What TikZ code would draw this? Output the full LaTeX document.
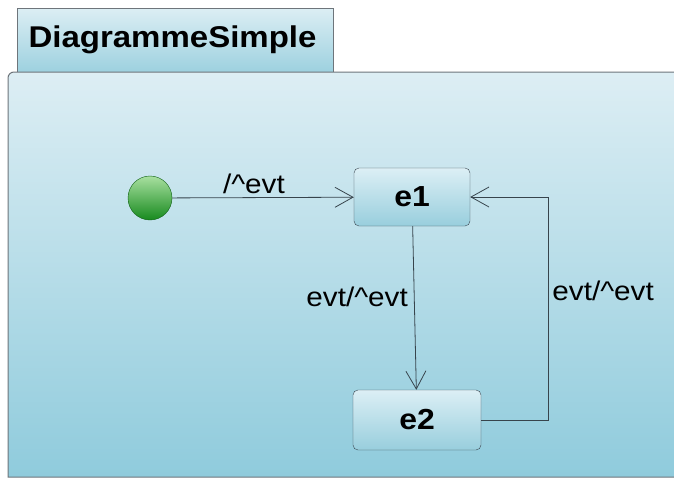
\documentclass[tikz,border=0pt]{standalone}
\usepackage{fontspec}
\setmainfont[FakeStretch=1.1]{Liberation Sans}
\usetikzlibrary{arrows.meta}

\definecolor{frameline}{HTML}{6E757B}
\definecolor{frametop}{HTML}{DDEEF4}
\definecolor{framebot}{HTML}{8FCBDC}
\definecolor{tabtop}{HTML}{DCEEF4}
\definecolor{tabbot}{HTML}{9DD1DF}
\definecolor{statetop}{HTML}{DCEFF5}
\definecolor{statebot}{HTML}{98CEDD}
\definecolor{stateline}{HTML}{3C4852}
\definecolor{arrowline}{HTML}{37444C}
\definecolor{inittop}{HTML}{A8E0A0}
\definecolor{initbot}{HTML}{178A1E}

\tikzset{
  state/.style={draw=stateline, rounded corners=5pt, top color=statetop,
    bottom color=statebot, font=\fontsize{29}{29}\selectfont\bfseries},
  initstate/.style={circle, draw=initbot!70!black, top color=inittop,
    bottom color=initbot, minimum size=44pt, inner sep=0pt},
  trans/.style={draw=arrowline, line width=0.8pt,
    -{Straight Barb[length=18pt,width=20pt,line width=0.8pt]}},
  lbl/.style={font=\fontsize{27}{27}\selectfont, inner sep=1pt}
}

\begin{document}
\begin{tikzpicture}[x=1pt,y=-1pt]
  \useasboundingbox (0,0) rectangle (674,479);

  % package tab and body
  \shade[top color=tabtop, bottom color=tabbot, draw=frameline, line width=0.8pt]
    (17,72) -- (17,8) -- (333,8) -- (333,72);
  \node[anchor=west, font=\fontsize{30}{30}\selectfont\bfseries] (title) at (25,40) {DiagrammeSimple};
  \shade[top color=frametop, bottom color=framebot, draw=frameline, line width=1pt]
    (690,477) -- (8,477) [rounded corners=6pt] -- (8,72) -- (690,72);

  % states
  \node[initstate] (init) at (150,198) {};
  \node[state, minimum width=116pt, minimum height=58pt] (e1) at (412,197) {e1};
  \node[state, minimum width=128pt, minimum height=60pt] (e2) at (417,420) {e2};

  % transitions
  \draw[trans] (init) -- (e1) node[lbl, pos=0.45, above=2pt] {/\textasciicircum evt};
  \draw[trans] (e1) -- (e2) node[lbl, pos=0.43, left=5pt] {evt/\textasciicircum evt};
  \coordinate (back) at (548,420);
  \draw[trans] (e2.east) -- (back) |- (e1.east)
    node[lbl, pos=0.29, right=3pt] {evt/\textasciicircum evt};
\end{tikzpicture}
\end{document}
